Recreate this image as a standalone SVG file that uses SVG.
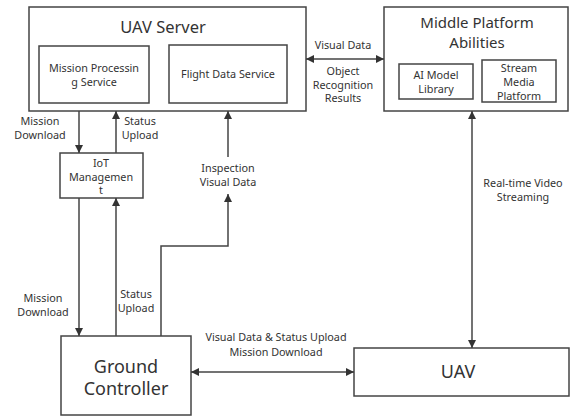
<svg xmlns="http://www.w3.org/2000/svg" width="570" height="417" viewBox="0 0 570 417">
<style>
.box{fill:#fff;stroke:#444;stroke-width:1.5}
.ln{fill:none;stroke:#444;stroke-width:1.5}
text{font-family:"Noto Sans","Open Sans",sans-serif;fill:#333;text-anchor:middle}
.s{font-size:10.8px}
.t{font-size:16.5px}
.m{font-size:15px}
.g{font-size:18px}
</style>
<defs>
<marker id="ah" viewBox="0 0 10 10" refX="10" refY="5" markerWidth="8" markerHeight="8" markerUnits="userSpaceOnUse" orient="auto-start-reverse">
<path d="M0,0 L10,5 L0,10 z" fill="#333"/>
</marker>
</defs>
<rect width="570" height="417" fill="#fff"/>
<g id="uav-server">
<rect class="box" x="29" y="7" width="277" height="104"/>
<text class="t" x="163" y="33">UAV Server</text>
</g>
<g id="mission-processing">
<rect class="box" x="39" y="46" width="110" height="57"/>
<text class="s" x="94" y="72">Mission Processin</text>
<text class="s" x="94" y="86">g Service</text>
</g>
<g id="flight-data">
<rect class="box" x="169" y="45" width="118" height="58"/>
<text class="s" x="228" y="78">Flight Data Service</text>
</g>
<g id="middle-platform">
<rect class="box" x="384" y="7" width="184" height="104"/>
<text class="m" x="477" y="27.5">Middle Platform</text>
<text class="m" x="477" y="47.5">Abilities</text>
</g>
<g id="ai-model">
<rect class="box" x="399" y="64" width="74" height="35"/>
<text class="s" x="436" y="79">AI Model</text>
<text class="s" x="436" y="93">Library</text>
</g>
<g id="stream-media">
<rect class="box" x="482" y="60" width="74" height="42"/>
<text class="s" x="519" y="72">Stream</text>
<text class="s" x="519" y="86">Media</text>
<text class="s" x="519" y="100">Platform</text>
</g>
<g id="iot">
<rect class="box" x="60" y="153" width="83" height="45"/>
<text class="s" x="101" y="167">IoT</text>
<text class="s" x="101" y="180.5">Managemen</text>
<text class="s" x="101" y="194">t</text>
</g>
<g id="ground-controller">
<rect class="box" x="61" y="336" width="130" height="79"/>
<text class="g" x="126" y="373">Ground</text>
<text class="g" x="126" y="395">Controller</text>
</g>
<g id="uav">
<rect class="box" x="354" y="348" width="215" height="48"/>
<text class="g" x="458" y="378">UAV</text>
</g>
<g id="connectors">
<line class="ln" x1="306" y1="59" x2="384" y2="59" marker-start="url(#ah)" marker-end="url(#ah)"/>
<line class="ln" x1="79" y1="111" x2="79" y2="153" marker-end="url(#ah)"/>
<line class="ln" x1="116" y1="153" x2="116" y2="111" marker-end="url(#ah)"/>
<line class="ln" x1="228" y1="157" x2="228" y2="111" marker-end="url(#ah)"/>
<polyline class="ln" points="161,336 161,246 228,246 228,194" marker-end="url(#ah)"/>
<line class="ln" x1="79" y1="198" x2="79" y2="336" marker-end="url(#ah)"/>
<line class="ln" x1="116" y1="336" x2="116" y2="198" marker-end="url(#ah)"/>
<line class="ln" x1="191" y1="372" x2="354" y2="372" marker-start="url(#ah)" marker-end="url(#ah)"/>
<line class="ln" x1="472" y1="111" x2="472" y2="348" marker-start="url(#ah)" marker-end="url(#ah)"/>
<text class="s" x="343" y="49">Visual Data</text>
<text class="s" x="343" y="75">Object</text>
<text class="s" x="343" y="88.5">Recognition</text>
<text class="s" x="343" y="102">Results</text>
<text class="s" x="40" y="125">Mission</text>
<text class="s" x="40" y="139">Download</text>
<text class="s" x="140" y="125">Status</text>
<text class="s" x="140" y="139">Upload</text>
<text class="s" x="228" y="172">Inspection</text>
<text class="s" x="228" y="186">Visual Data</text>
<text class="s" x="43" y="302">Mission</text>
<text class="s" x="43" y="316">Download</text>
<text class="s" x="136" y="298">Status</text>
<text class="s" x="136" y="312">Upload</text>
<text class="s" x="276" y="341">Visual Data &amp; Status Upload</text>
<text class="s" x="276" y="355.5">Mission Download</text>
<text class="s" x="523" y="187">Real-time Video</text>
<text class="s" x="523" y="201">Streaming</text>
</g>
</svg>
